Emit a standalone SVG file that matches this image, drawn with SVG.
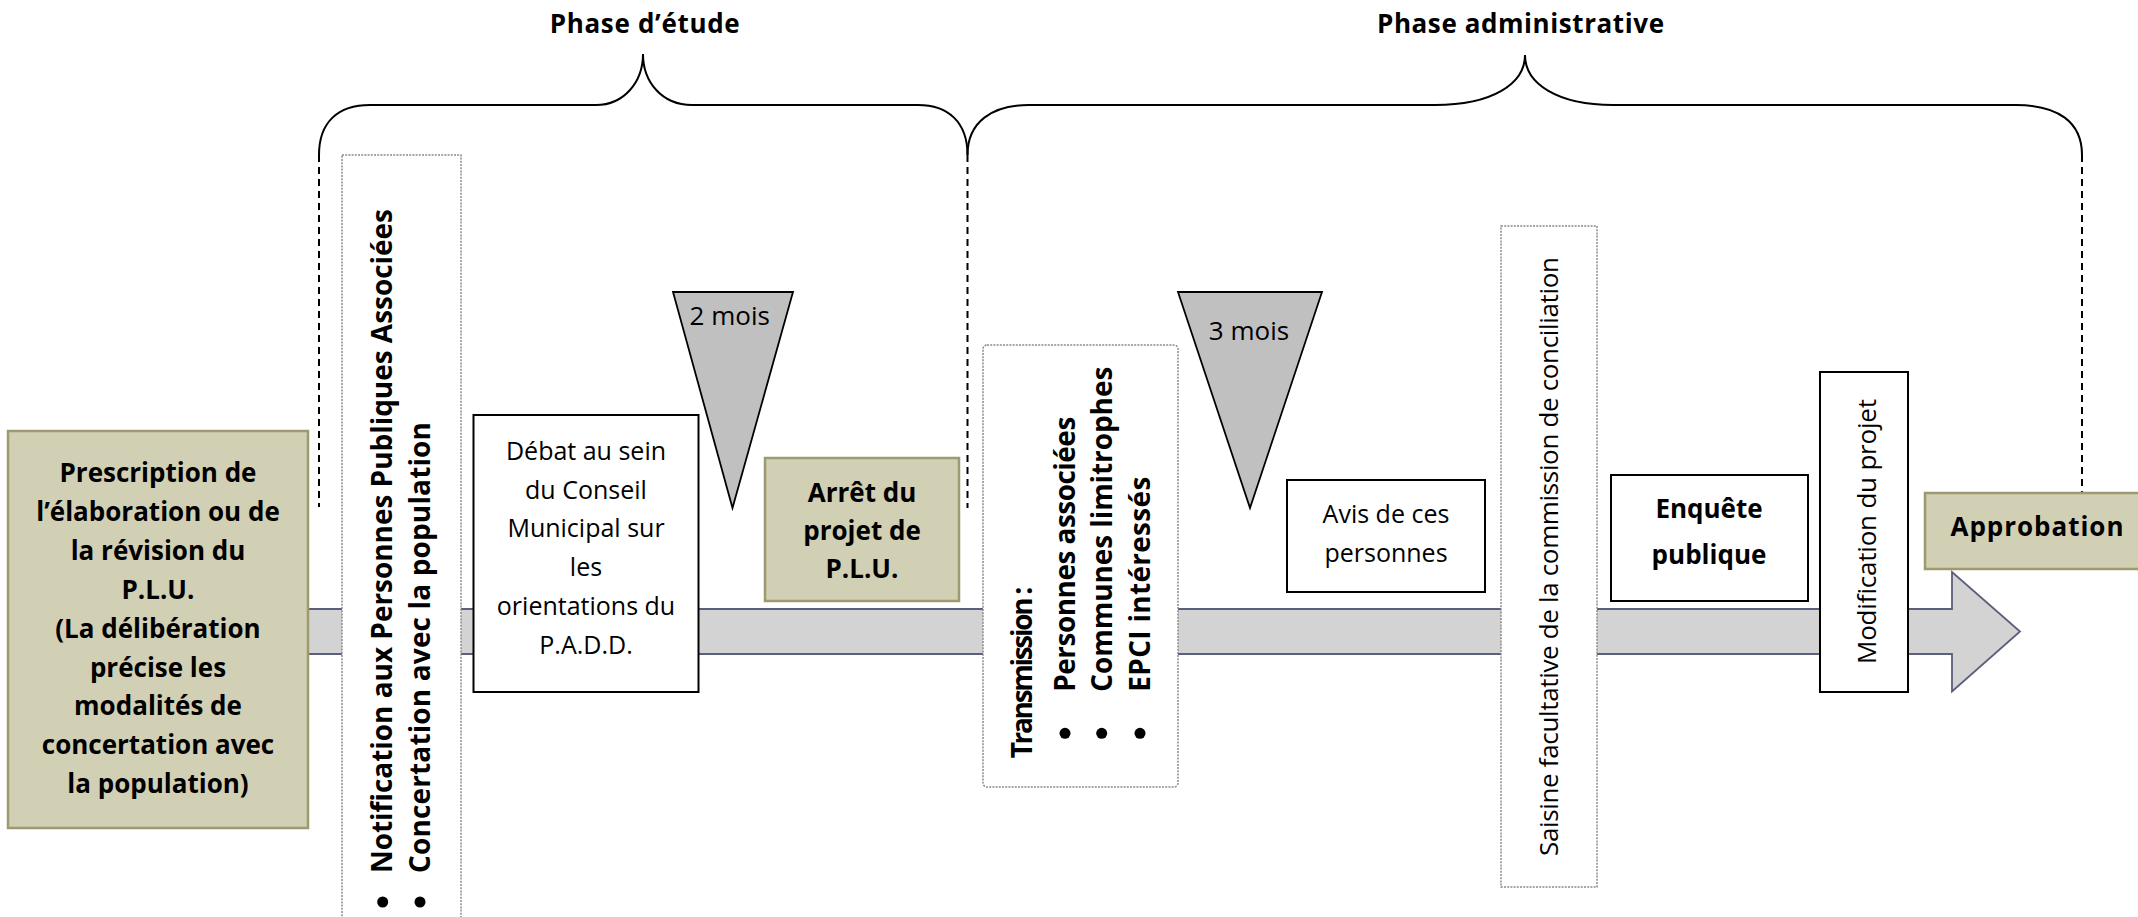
<svg xmlns="http://www.w3.org/2000/svg" width="2138" height="917" viewBox="0 0 2138 917">
<style>
text{font-family:"Open Sans","Liberation Sans",sans-serif;fill:#000}
.b{font-weight:bold}
.c{text-anchor:middle}
.t25{font-size:25px}
.t26{font-size:26px}
.t28{font-size:28px}
.box{fill:#fff;stroke:#000;stroke-width:2}
.tan{fill:#D1CFB4;stroke:#9C9A6E;stroke-width:2.5}
.dot{fill:#fff;stroke:#8a8a8a;stroke-width:1.5;stroke-dasharray:2 1.2}
.tri{fill:#C0C0C0;stroke:#000;stroke-width:1.8}
.brace{fill:none;stroke:#000;stroke-width:2}
.dash{fill:none;stroke:#000;stroke-width:2;stroke-dasharray:7 5}
</style>
<rect width="2138" height="917" fill="#fff"/>

<g id="connectors">
  <path class="brace" d="M319 155 C319 122 338 105 370 105 L596 105 C624 105 643 82 643 54 C643 82 662 105 692 105 L918 105 C948 105 967.5 122 967.5 155"/>
  <path class="brace" d="M967.5 155 C967.5 122 992 105 1029 105 L1435 105 C1492 105 1525 84 1525 55 C1525 84 1558 105 1613 105 L2016 105 C2058 105 2082 122 2082 155"/>
  <line class="dash" x1="319" y1="155" x2="319" y2="507"/>
  <line class="dash" x1="967.5" y1="155" x2="967.5" y2="508"/>
  <line class="dash" x1="2082" y1="155" x2="2082" y2="493"/>
  <polygon points="307,609 1952,609 1952,572 2020,631.5 1952,691.5 1952,654 307,654" fill="#D3D3D3" stroke="#5A5F7A" stroke-width="1.8"/>
</g>

<g id="phase-etude">
  <text class="b c t26" x="644.7" y="33" textLength="190">Phase d’étude</text>
</g>
<g id="phase-admin">
  <text class="b c t26" x="1520.5" y="33" textLength="287">Phase administrative</text>
</g>

<g id="prescription">
  <rect class="tan" x="8" y="431" width="300" height="397"/>
  <g class="b c t26">
    <text x="158" y="481.7">Prescription de</text>
    <text x="158" y="520.7">l’élaboration ou de</text>
    <text x="158" y="559.5">la révision du</text>
    <text x="158" y="598.5">P.L.U.</text>
    <text x="158" y="637.5">(La délibération</text>
    <text x="158" y="676.5">précise les</text>
    <text x="158" y="715.3">modalités de</text>
    <text x="158" y="754.2">concertation avec</text>
    <text x="158" y="793.2">la population)</text>
  </g>
</g>

<g id="notification">
  <rect class="dot" x="342" y="155" width="119" height="780"/>
  <circle cx="382.7" cy="902" r="5.5"/>
  <circle cx="420" cy="902" r="5.5"/>
  <text class="b t28" transform="translate(392,873) rotate(-90)" textLength="664">Notification aux Personnes Publiques Associées</text>
  <text class="b t28" transform="translate(430,873) rotate(-90)" textLength="451">Concertation avec la population</text>
</g>

<g id="debat">
  <rect class="box" x="473.5" y="415" width="225" height="277"/>
  <g class="c t25">
    <text x="586" y="460">Débat au sein</text>
    <text x="586" y="498.5">du Conseil</text>
    <text x="586" y="537">Municipal sur</text>
    <text x="586" y="576">les</text>
    <text x="586" y="615">orientations du</text>
    <text x="586" y="653.5">P.A.D.D.</text>
  </g>
</g>

<g id="delai-2mois">
  <polygon class="tri" points="673,292 793,292 732.5,508"/>
  <text class="c t26" x="729.7" y="325">2 mois</text>
</g>

<g id="arret">
  <rect class="tan" x="765" y="458" width="194" height="143"/>
  <g class="b c t26">
    <text x="862" y="501.7">Arrêt du</text>
    <text x="862" y="540">projet de</text>
    <text x="862" y="578.3">P.L.U.</text>
  </g>
</g>

<g id="transmission">
  <rect class="dot" x="983" y="345" width="195" height="442" rx="4"/>
  <text class="b t28" transform="translate(1031.7,758.3) rotate(-90)" textLength="171.6">Transmission :</text>
  <circle cx="1065" cy="733.3" r="5.5"/>
  <circle cx="1101.7" cy="733.3" r="5.5"/>
  <circle cx="1140" cy="733.3" r="5.5"/>
  <text class="b t28" transform="translate(1075,691.7) rotate(-90)" textLength="275">Personnes associées</text>
  <text class="b t28" transform="translate(1111.7,691.7) rotate(-90)" textLength="325">Communes limitrophes</text>
  <text class="b t28" transform="translate(1150,691.7) rotate(-90)" textLength="215">EPCI intéressés</text>
</g>

<g id="delai-3mois">
  <polygon class="tri" points="1178,292 1322,292 1250,508"/>
  <text class="c t26" x="1249" y="340">3 mois</text>
</g>

<g id="avis">
  <rect class="box" x="1287" y="480" width="198" height="112"/>
  <g class="c t25">
    <text x="1386" y="523.3">Avis de ces</text>
    <text x="1386" y="561.7">personnes</text>
  </g>
</g>

<g id="saisine">
  <rect class="dot" x="1501" y="226" width="96" height="661"/>
  <text class="t26" transform="translate(1557.5,856) rotate(-90)" textLength="599">Saisine facultative de la commission de conciliation</text>
</g>

<g id="enquete">
  <rect class="box" x="1611" y="475" width="197" height="126"/>
  <g class="b c t26">
    <text x="1709" y="517.8">Enquête</text>
    <text x="1709" y="563.5">publique</text>
  </g>
</g>

<g id="modification">
  <rect class="box" x="1820" y="372" width="88" height="320"/>
  <text class="t26" transform="translate(1875.6,664) rotate(-90)" textLength="265">Modification du projet</text>
</g>

<g id="approbation">
  <rect class="tan" x="1925" y="493" width="240" height="76"/>
  <text class="b c t26" x="2037" y="536" textLength="173">Approbation</text>
</g>
</svg>
